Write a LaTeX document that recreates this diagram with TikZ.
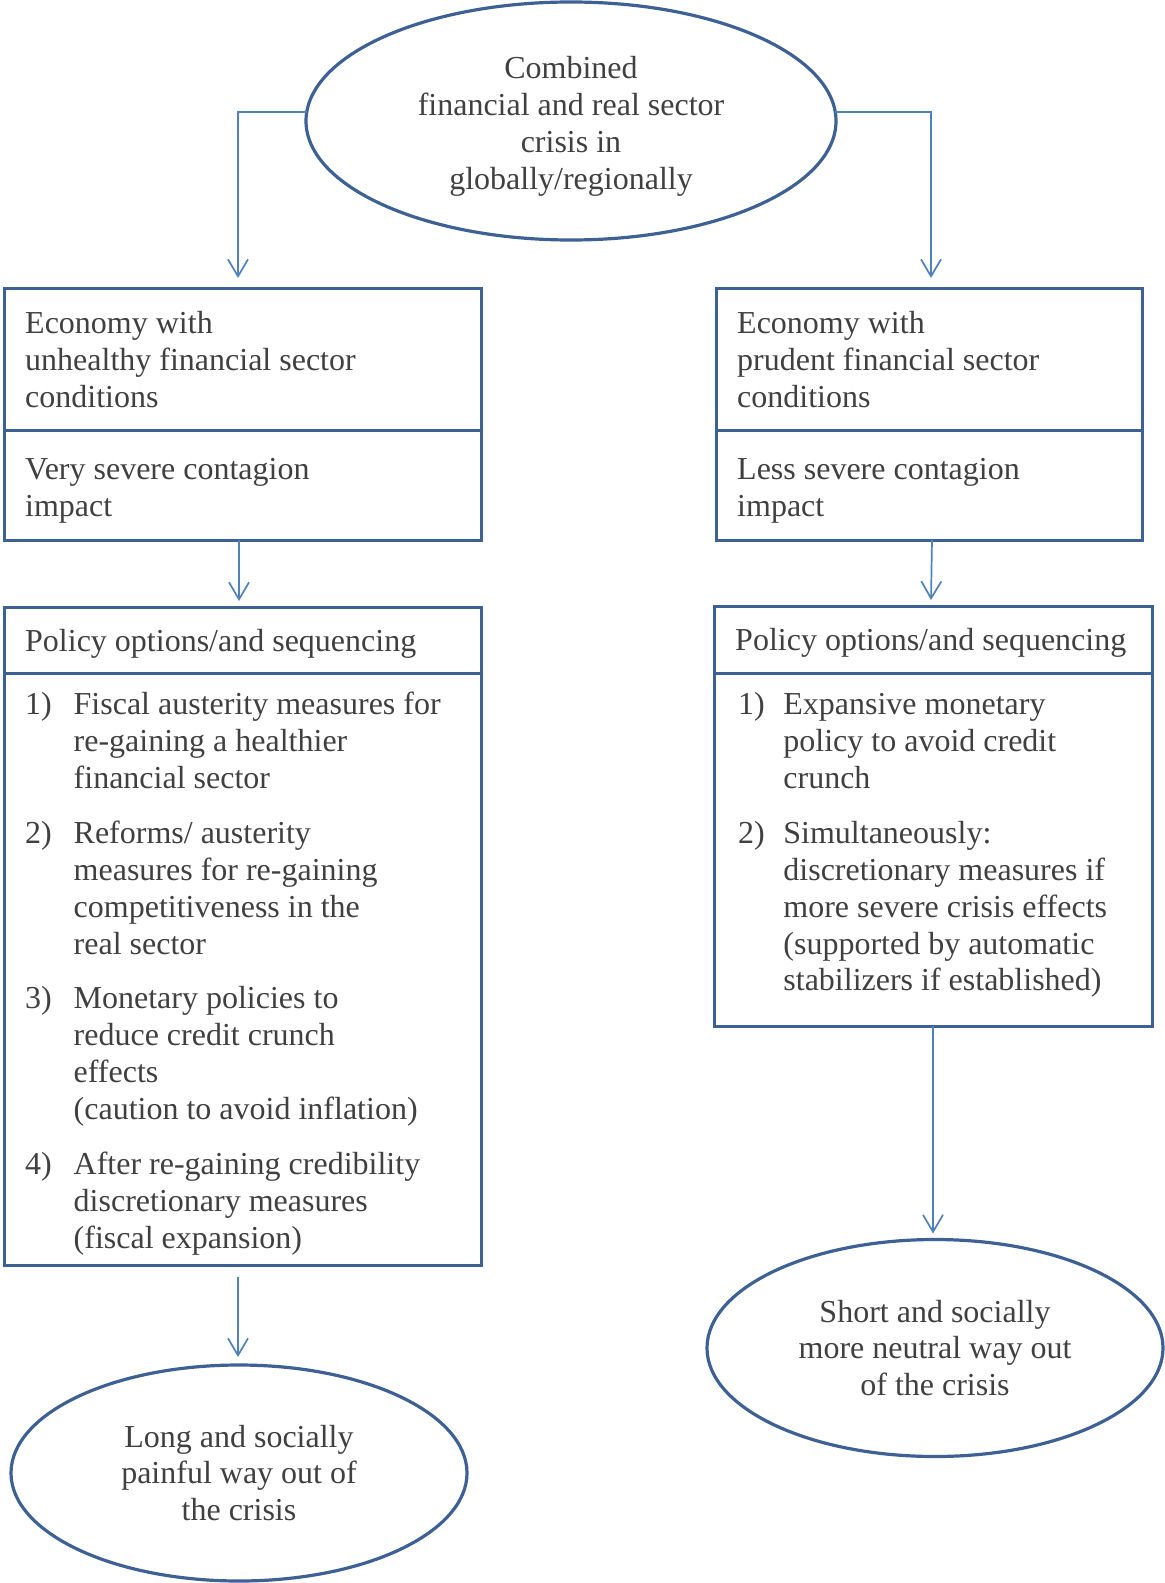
\documentclass[tikz,border=0pt]{standalone}
\usepackage{fontspec}
\setmainfont{Liberation Serif}
\usetikzlibrary{shapes.geometric, arrows.meta, positioning}
\definecolor{edgeblue}{HTML}{3D6194}
\definecolor{arrowblue}{HTML}{4F81BD}
\definecolor{txtgray}{HTML}{404040}
\tikzset{
    base/.style={font=\fontsize{16}{18.45}\selectfont, text=txtgray, outer sep=0pt},
    oval/.style={base, draw=edgeblue, line width=1.6pt, ellipse, inner sep=0pt, align=flush center},
    panel/.style={base, draw=edgeblue, line width=1.5pt, anchor=north west, inner xsep=10.6pt, inner ysep=0pt, align=flush left},
    steps/.style={base, anchor=north west, inner sep=0pt},
    nudge/.style={execute at end node={\par\vspace*{-#1}}},
    flow/.style={draw=arrowblue, line width=0.85pt, -{Straight Barb[length=8.5pt, width=10pt]}}
}
\newcommand{\steplist}[2]{\begin{tabular}{@{}p{#1}@{}l@{}}#2\end{tabular}}

\begin{document}
\begin{tikzpicture}[x=0.5pt, y=-0.5pt]
    \useasboundingbox (0,0) rectangle (1164,1583);

    % crisis at the top
    \node[oval, text width=160pt, nudge=5.5pt, minimum width=265pt, minimum height=119pt] (top) at (571,121)
        {Combined\\financial and real sector\\crisis in\\globally/regionally};

    % left branch
    \node[panel, text width=217.3pt, minimum height=70.5pt] (lb1) at (4,289)
        {Economy with\\unhealthy financial sector\\conditions};
    \node[panel, text width=217.3pt, nudge=6pt, minimum height=55pt] (lb2) at (lb1.south west)
        {Very severe contagion\\impact};
    \node[panel, text width=217.3pt, nudge=5pt, minimum height=33.3pt] (lhead) at (4,607)
        {Policy options/and sequencing};
    \node[panel, text width=217.3pt, minimum height=295.8pt] (lbody) at (lhead.south west) {};
    \node[steps] (llist) at ([xshift=10.6pt, yshift=-7.6pt]lbody.north west)
        {\steplist{24.25pt}{1) & Fiscal austerity measures for\\ & re-gaining a healthier\\ & financial sector\\[9pt]
         2) & Reforms/ austerity\\ & measures for re-gaining\\ & competitiveness in the\\ & real sector\\[9pt]
         3) & Monetary policies to\\ & reduce credit crunch\\ & effects\\ & (caution to avoid inflation)\\[9pt]
         4) & After re-gaining credibility\\ & discretionary measures\\ & (fiscal expansion)}};
    \node[oval, text width=160pt, minimum width=228pt, minimum height=108pt] (lend) at (239,1473)
        {Long and socially\\painful way out of\\the crisis};

    % right branch
    \node[panel, text width=191.8pt, minimum height=70.5pt] (rb1) at (716,289)
        {Economy with\\prudent financial sector\\conditions};
    \node[panel, text width=191.8pt, nudge=6pt, minimum height=55pt] (rb2) at (rb1.south west)
        {Less severe contagion\\impact};
    \node[panel, text width=197.8pt, nudge=5pt, minimum height=33.8pt] (rhead) at (714,606)
        {Policy options/and sequencing};
    \node[panel, text width=197.8pt, minimum height=176.2pt] (rbody) at (rhead.south west) {};
    \node[steps] (rlist) at ([xshift=12pt, yshift=-7.6pt]rbody.north west)
        {\steplist{22.7pt}{1) & Expansive monetary\\ & policy to avoid credit\\ & crunch\\[9pt]
         2) & Simultaneously:\\ & discretionary measures if\\ & more severe crisis effects\\ & (supported by automatic\\ & stabilizers if established)}};
    \node[oval, text width=160pt, minimum width=228pt, minimum height=108.5pt] (rend) at (935,1348)
        {Short and socially\\more neutral way out\\of the crisis};

    % connectors
    \draw[flow] (top.178) -| ([xshift=-2.25pt, yshift=5.5pt]lb1.north);
    \draw[flow] (top.2) -| ([xshift=1pt, yshift=5.5pt]rb1.north);
    \draw[flow] ([xshift=-1.75pt]lb2.south) -- ([xshift=-1.75pt, yshift=3pt]lhead.north);
    \draw[flow] ([xshift=1.5pt]rb2.south) -- ([xshift=-1pt, yshift=3pt]rhead.north);
    \draw[flow] ([xshift=-2.25pt, yshift=-6pt]lbody.south) -- ([xshift=-0.5pt, yshift=4pt]lend.north);
    \draw[flow] (rbody.south) -- ([xshift=-1pt, yshift=3pt]rend.north);
\end{tikzpicture}
\end{document}
